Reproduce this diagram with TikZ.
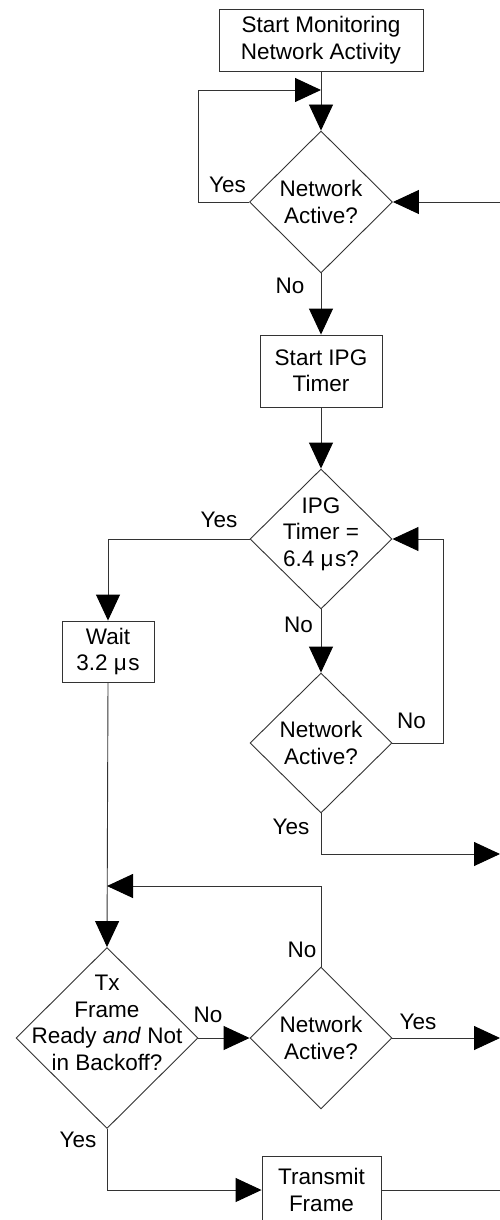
\documentclass[tikz,border=0pt]{standalone}
\usepackage{fontspec}
\setmainfont{Liberation Sans}
\usetikzlibrary{shapes.geometric,arrows.meta}
\tikzset{
  ln/.style={draw=black!80, line width=0.9pt},
  arr/.style={ln, -{Triangle[length=26pt,width=24pt,color=black,fill=black]}},
  box/.style={ln, rectangle, inner sep=0pt, align=center},
  dia/.style={ln, diamond, aspect=1, inner sep=0pt},
  txt/.style={align=center, inner sep=0pt},
  lbl/.style={inner sep=0pt},
  every node/.append style={font=\fontsize{22.5pt}{26.5pt}\selectfont}
}
\begin{document}
\begin{tikzpicture}[x=1pt,y=-1pt]
\useasboundingbox (0,0) rectangle (500,1220);
\clip (0,0) rectangle (500,1220);
\fill[white] (0,0) rectangle (500,1220);

% nodes
\node[box, minimum width=204pt, minimum height=62pt] (start) at (321,40) {Start Monitoring\\Network Activity};
\node[dia, minimum width=143pt, minimum height=142pt] (d1) at (321,202) {};
\node[txt] (d1t) at (d1) {Network\\Active?};
\node[box, minimum width=122pt, minimum height=72pt] (ipg) at (321,371) {Start IPG\\Timer};
\node[dia, minimum width=142pt, minimum height=140pt] (d2) at (321,539) {};
\node[txt] (d2t) at ([yshift=5pt]d2) {IPG\\Timer =\\6.4 μ\kern1.5pt s?};
\node[box, minimum width=92pt, minimum height=61pt] (wait) at (108,651.5) {Wait\\3.2 μ\kern1.5pt s};
\node[dia, minimum width=142pt, minimum height=140pt] (d3) at (321,743) {};
\node[txt] (d3t) at (d3) {Network\\Active?};
\node[dia, minimum width=182pt, minimum height=181pt] (d4) at (107,1038) {};
\node[txt] (d4t) at ([yshift=15pt]d4) {Tx\\Frame\\Ready \textit{and} Not\\in Backoff?};
\node[dia, minimum width=142pt, minimum height=142pt] (d5) at (321,1038) {};
\node[txt] (d5t) at (d5) {Network\\Active?};
\node[box, minimum width=119pt, minimum height=68pt] (tx) at (321.5,1190) {Transmit\\Frame};

% coordinates
\coordinate (j1) at (321,90);
\coordinate (e1) at (503,202);
\coordinate (e2) at (500,854);
\coordinate (j2) at (107,886);
\coordinate (e3) at (500,1038);
\coordinate (e4) at (503,1190);

% connectors
\draw[arr] (start.south) -- (d1.north);
\draw[arr] (d1.west) -- (198,202) |- (j1);
\draw[arr] (e1) -- (d1.east);
\draw[arr] (d1.south) -- (ipg.north);
\draw[arr] (ipg.south) -- (d2.north);
\draw[arr] (d2.west) -| (wait.north);
\draw[arr] (d2.south) -- (d3.north);
\draw[arr] (d3.east) -- (443,743) |- (d2.east);
\draw[arr] (d3.south) |- (e2);
\draw[arr] (wait.south) -- (d4.north);
\draw[arr] (d5.north) |- (j2);
\draw[arr] (d4.east) -- (d5.west);
\draw[arr] (d5.east) -- (e3);
\draw[arr] (d4.south) |- (tx.west);
\draw[ln] (tx.east) -- (e4);

% labels
\node[lbl] (l1) at (227.5,185) {Yes};
\node[lbl] (l2) at (290,286) {No};
\node[lbl] (l3) at (219,519.5) {Yes};
\node[lbl] (l4) at (298.5,624.5) {No};
\node[lbl] (l5) at (411.5,721) {No};
\node[lbl] (l6) at (291,826.5) {Yes};
\node[lbl] (l7) at (302,950) {No};
\node[lbl] (l8) at (208,1014.5) {No};
\node[lbl] (l9) at (418,1021.5) {Yes};
\node[lbl] (l10) at (78,1139.5) {Yes};
\end{tikzpicture}
\end{document}
